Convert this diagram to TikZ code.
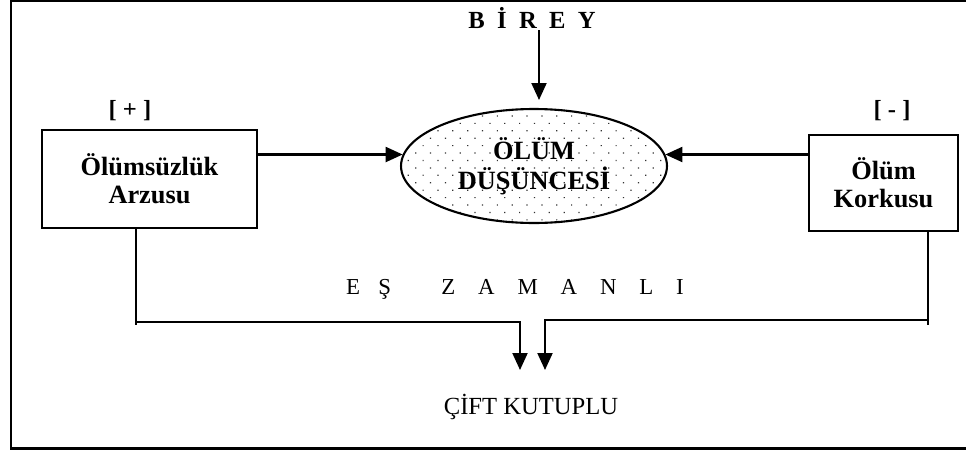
\documentclass[tikz,border=0pt]{standalone}
\usepackage{fontspec}
\setmainfont{Liberation Serif}
\usetikzlibrary{arrows.meta,patterns.meta,shapes.geometric,positioning}

\tikzset{
  kutu/.style={draw, line width=1.2pt, align=center, inner sep=0pt,
    font=\bfseries\fontsize{15}{16}\selectfont},
  fikir/.style={ellipse, draw, line width=1.2pt, align=center, inner sep=0pt,
    minimum width=5.32cm, minimum height=2.28cm,
    pattern={Dots[distance=0.21cm, angle=45, radius=0.017cm]},
    pattern color=black!80,
    font=\bfseries\fontsize{15}{17}\selectfont},
  kutup/.style={font=\bfseries\fontsize{14}{16}\selectfont},
  ok/.style={-{Triangle[length=0.34cm, width=0.3cm]}, line width=1.2pt},
  hat/.style={line width=1.2pt},
  yazi/.style={font=\fontsize{13}{15}\selectfont}
}

\begin{document}
\begin{tikzpicture}[x=0.02cm, y=-0.02cm]
  \useasboundingbox (0,0) rectangle (966,450);
  % cerceve
  \draw[line width=1.7pt] (966,1) -- (11,1) -- (11,448) -- (966,448);

  \node[kutu, minimum width=4.3cm, minimum height=1.96cm] (arzu) at (149.5,179) {Ölümsüzlük\\Arzusu};
  \node[kutu, minimum width=2.98cm, minimum height=1.92cm] (korku) at (883.5,183) {Ölüm\\Korkusu};
  \node[fikir] (dusunce) at (534,166) {ÖLÜM\\DÜŞÜNCESİ};

  \node[kutup] (arti) at (130,111) {[ + ]};
  \node[kutup] (eksi) at (892,111) {[ - ]};
  \node[kutup] (birey) at (532,18) {B\hspace{0.5em}İ\hspace{0.5em}R\hspace{0.5em}E\hspace{0.5em}Y};

  \node[yazi] (eszaman) at (515,289) {E\hspace{0.8em}Ş\hspace{2.2em}Z\hspace{1em}A\hspace{1em}M\hspace{1em}A\hspace{1em}N\hspace{1em}L\hspace{1em}I};
  \node[yazi, font=\fontsize{14}{16}\selectfont] (cift) at (531,407) {ÇİFT KUTUPLU};

  % oklar
  \coordinate (bireyuc) at (539,100);
  \draw[ok] (bireyuc |- 0,30) -- (bireyuc);
  \draw[ok] (arzu.east |- dusunce.175) -- (dusunce.175);
  \draw[ok] (korku.west |- dusunce.5) -- (dusunce.5);

  % es zamanli baglantilar
  \coordinate (sol) at (136,322);
  \coordinate (sag) at (928,320);
  \coordinate (soluc) at (520,370);
  \coordinate (saguc) at (545,370);
  \draw[hat] (arzu.south -| sol) -- (136,325);
  \draw[hat] (korku.south -| sag) -- (928,325);
  \draw[ok] (sol) -- (sol -| soluc) -- (soluc);
  \draw[ok] (sag) -- (sag -| saguc) -- (saguc);
\end{tikzpicture}
\end{document}
